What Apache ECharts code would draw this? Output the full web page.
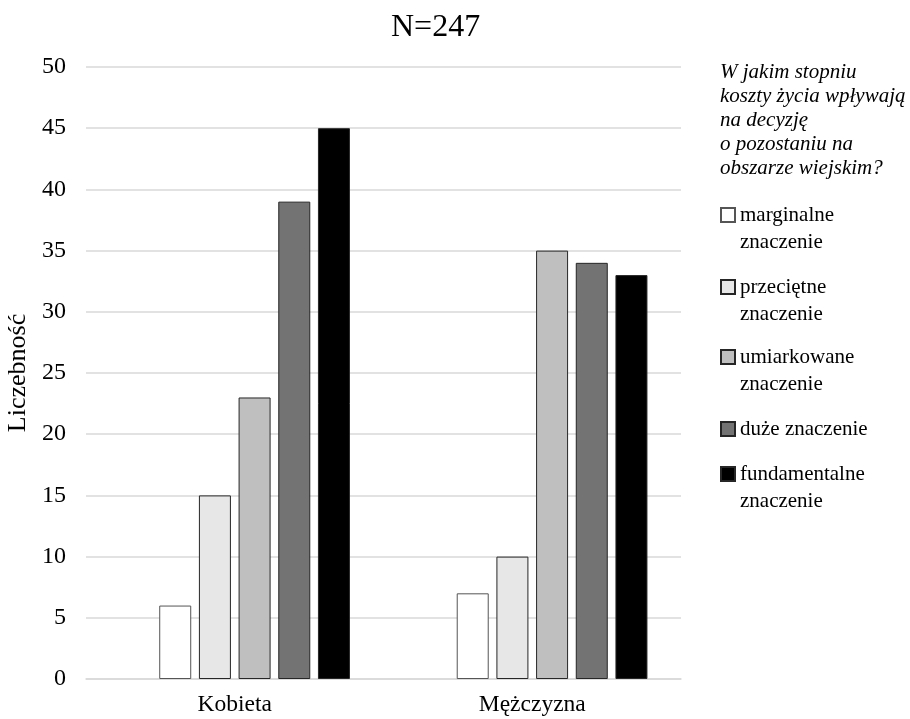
<!DOCTYPE html>
<html><head><meta charset="utf-8">
<script src="https://cdn.jsdelivr.net/npm/echarts@6/dist/echarts.min.js"></script>
<style>html,body{margin:0;padding:0;background:#fff}#c{width:910px;height:719px}</style>
</head><body><div id="c"></div>
<script>
const categories = ['Kobieta', 'Mężczyzna'];
const seriesNames = ['marginalne\nznaczenie', 'przeciętne\nznaczenie', 'umiarkowane\nznaczenie', 'duże znaczenie', 'fundamentalne\nznaczenie'];
const marginalne = [6, 7];
const przecietne = [15, 10];
const umiarkowane = [23, 35];
const duze = [39, 34];
const fundamentalne = [45, 33];
const emptySlot = [null, null];
const colors = ['#ffffff', '#e7e7e7', '#bfbfbf', '#737373', '#000000'];
const yTicks = { min: 0, max: 50, interval: 5 };
const legendTitle = 'W jakim stopniu\nkoszty życia wpływają\nna decyzję\no pozostaniu na\nobszarze wiejskim?';

const font = 'Liberation Serif, Times New Roman, serif';
const values = [marginalne, przecietne, umiarkowane, duze, fundamentalne];
const series = [{
  name: '_blank', type: 'bar', data: emptySlot, barWidth: 32, barGap: '24%',
  itemStyle: { color: 'transparent' }
}];
values.forEach((v, i) => {
  series.push({
    name: seriesNames[i], type: 'bar', data: v, barWidth: 32, barGap: '24%',
    itemStyle: { color: colors[i], borderColor: i === 0 ? '#555' : '#262626', borderWidth: 1 }
  });
});

// one legend block per entry so that the swatch sits on the first text line
const LH = 27;
const iconCenters = [215, 287, 357, 429, 474];
const legends = seriesNames.map((n, i) => {
  const multi = n.indexOf('\n') >= 0;
  const blockLines = multi ? 3 : 1;
  return {
    data: [n], orient: 'vertical', left: 720, top: iconCenters[i] - blockLines * LH / 2,
    padding: 0, itemWidth: 14, itemHeight: 14, icon: 'rect',
    formatter: multi ? (name) => '\u00a0\n' + name : '{name}',
    textStyle: { fontFamily: font, fontSize: 21, color: '#000', lineHeight: LH }
  };
});

const chart = echarts.init(document.getElementById('c'), null, { renderer: 'canvas' });
chart.setOption({
  animation: false,
  backgroundColor: '#fff',
  textStyle: { fontFamily: font },
  title: [
    { text: 'N=247', left: 391, top: 12, padding: 0, textStyle: { fontFamily: font, fontSize: 32, fontWeight: 'normal', color: '#000' } },
    { text: legendTitle, left: 720, top: 60, padding: 0,
      textStyle: { fontFamily: font, fontSize: 21, fontStyle: 'italic', fontWeight: 'normal', color: '#000', lineHeight: 24.2 } }
  ],
  grid: { left: 86, right: 229, top: 67, bottom: 40, containLabel: false, outerBoundsMode: 'none' },
  legend: legends,
  xAxis: {
    type: 'category', data: categories,
    axisLine: { lineStyle: { color: '#d9d9d9', width: 1.5 } },
    axisTick: { show: false },
    axisLabel: { fontFamily: font, fontSize: 23.5, color: '#000', margin: 14 }
  },
  yAxis: {
    type: 'value', min: yTicks.min, max: yTicks.max, interval: yTicks.interval,
    name: 'Liczebność', nameLocation: 'middle', nameGap: 48, nameRotate: 90,
    nameTextStyle: { fontFamily: font, fontSize: 26, color: '#000' },
    axisLine: { show: false }, axisTick: { show: false },
    axisLabel: { fontFamily: font, fontSize: 24, color: '#000', margin: 20 },
    splitLine: { lineStyle: { color: '#d9d9d9', width: 1.5 } }
  },
  series: series
});
</script></body></html>
